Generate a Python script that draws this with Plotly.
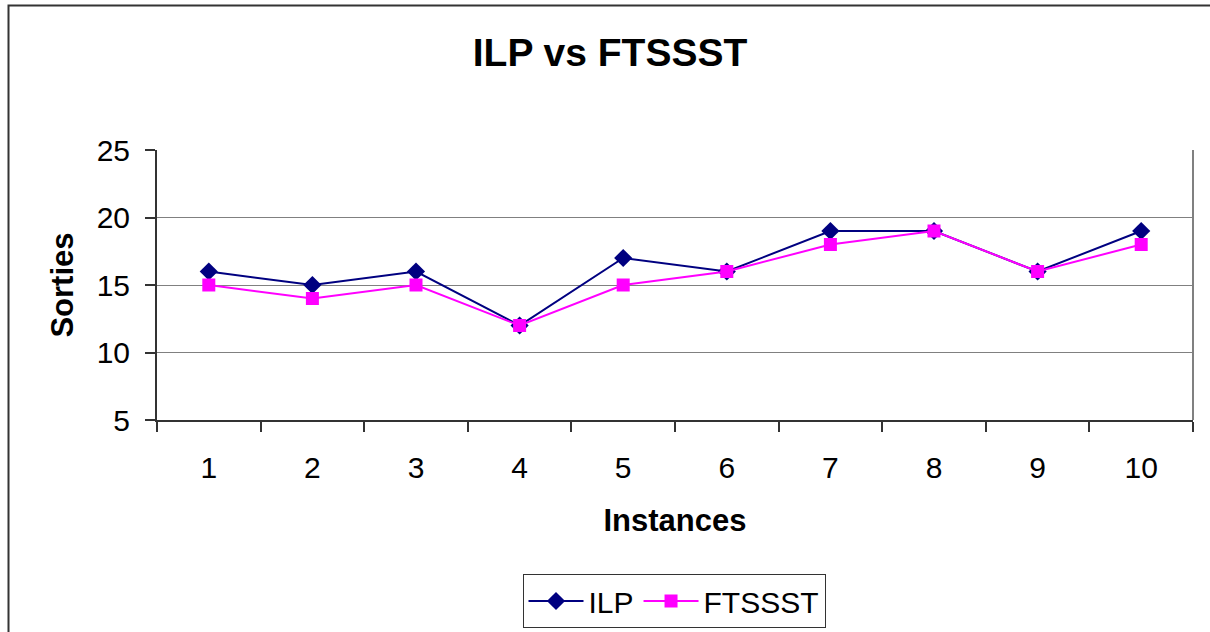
import plotly.graph_objects as go

instances = ["1", "2", "3", "4", "5", "6", "7", "8", "9", "10"]
ilp = [16, 15, 16, 12, 17, 16, 19, 19, 16, 19]
ftssst = [15, 14, 15, 12, 15, 16, 18, 19, 16, 18]
y_ticks = [5, 10, 15, 20, 25]

W, H = 1210, 632
L, R, T, B = 157, 17, 150, 212
pw, ph = W - L - R, H - T - B

def px_x(x):
    return (x - L) / pw

def px_y(y):
    return (H - B - y) / ph

FONT = "Liberation Sans, Arial, sans-serif"

fig = go.Figure()
fig.add_trace(go.Scatter(
    x=instances, y=ilp, name="ILP", mode="lines+markers",
    line=dict(color="#000080", width=2),
    marker=dict(symbol="diamond", size=14, color="#000080"),
))
fig.add_trace(go.Scatter(
    x=instances, y=ftssst, name="FTSSST", mode="lines+markers",
    line=dict(color="#FF00FF", width=2),
    marker=dict(symbol="square", size=13, color="#FF00FF"),
))

fig.update_layout(
    width=W, height=H,
    margin=dict(l=L, r=R, t=T, b=B, autoexpand=False),
    paper_bgcolor="white", plot_bgcolor="white",
    font=dict(family=FONT, color="black", size=30),
    title=dict(text="<b>ILP vs FTSSST</b>", x=610 / W, xref="container", xanchor="center",
               y=1 - 52 / H, yref="container", yanchor="middle",
               font=dict(size=39, family=FONT)),
    showlegend=True,
    legend=dict(orientation="h", x=px_x(674), xanchor="center", y=px_y(574), yanchor="top",
                bgcolor="white", bordercolor="#333333", borderwidth=1,
                font=dict(size=30, family=FONT), itemwidth=55, tracegroupgap=0),
    xaxis=dict(type="category", tickson="boundaries", ticks="outside", ticklen=10,
               tickcolor="#333333", tickwidth=1.5, showgrid=False,
               showline=True, linecolor="#333333", linewidth=2,
               tickfont=dict(size=30), ticklabelstandoff=20,
               title=dict(text="<b>Instances</b>", font=dict(size=31), standoff=26),
               range=[-0.5, 9.5], fixedrange=True),
    yaxis=dict(range=[5, 25], tickvals=y_ticks, ticks="outside", ticklen=10,
               tickcolor="#333333", tickwidth=1.5,
               showgrid=True, gridcolor="#808080", gridwidth=1.2,
               showline=True, linecolor="#333333", linewidth=2,
               tickfont=dict(size=30), ticklabelstandoff=9, zeroline=False,
               title=dict(text="<b>Sorties</b>", font=dict(size=31), standoff=14)),
    shapes=[
        dict(type="line", xref="paper", yref="paper", x0=1, x1=1, y0=0, y1=1,
             line=dict(color="#808080", width=2)),
        dict(type="rect", xref="paper", yref="paper",
             x0=px_x(8.5), x1=px_x(1240), y0=px_y(5.5), y1=px_y(700),
             line=dict(color="#333333", width=2), layer="below"),
    ],
)

fig.write_html("out.html", config={"displayModeBar": False},
               post_script="document.body.style.margin='0';document.body.style.overflow='hidden';")
